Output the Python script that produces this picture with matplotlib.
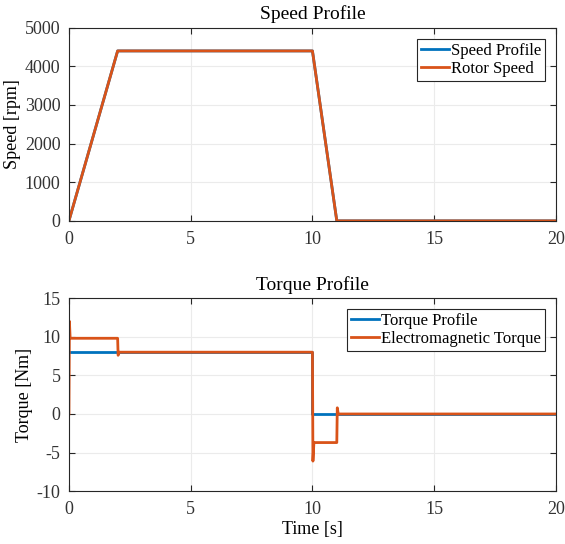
import matplotlib.pyplot as plt

plt.rcParams['font.family'] = ['Liberation Serif', 'DejaVu Serif']
plt.rcParams['font.size'] = 13
plt.rcParams['axes.unicode_minus'] = False

# speed data
t_speed = [0, 2, 10, 11, 20]
speed_ref = [0, 4400, 4400, 0, 0]
t_rotor = [0, 2, 10, 11, 20]
rotor_speed = [0, 4400, 4400, 0, 0]

# torque data
t_tref = [0, 10, 10, 20]
torque_ref = [8, 8, 0, 0]
t_te = [0, 0.02, 0.05, 2.0, 2.02, 2.06, 10.0, 10.02, 10.06, 11.0, 11.02, 11.06, 20]
torque_em = [0, 12, 9.8, 9.8, 7.6, 8, 8, -6.1, -3.7, -3.7, 0.8, 0, 0]

blue = '#0072BD'
orange = '#D95319'

fig = plt.figure(figsize=(5.65, 5.44), dpi=100)
ax1 = fig.add_axes([0.122, 0.594, 0.862, 0.355])
ax2 = fig.add_axes([0.122, 0.097, 0.862, 0.355])

ax1.plot(t_speed, speed_ref, color=blue, lw=2, label='Speed Profile')
ax1.plot(t_rotor, rotor_speed, color=orange, lw=2, label='Rotor Speed')
ax1.set_xlim(0, 20)
ax1.set_ylim(0, 5000)
ax1.set_xticks([0, 5, 10, 15, 20])
ax1.set_yticks([0, 1000, 2000, 3000, 4000, 5000])
ax1.set_ylabel('Speed [rpm]', labelpad=3)
ax1.set_title('Speed Profile', fontsize=14, pad=6)

ax2.plot(t_tref, torque_ref, color=blue, lw=2, label='Torque Profile')
ax2.plot(t_te, torque_em, color=orange, lw=2, label='Electromagnetic Torque')
ax2.set_xlim(0, 20)
ax2.set_ylim(-10, 15)
ax2.set_xticks([0, 5, 10, 15, 20])
ax2.set_yticks([-10, -5, 0, 5, 10, 15])
ax2.set_ylabel('Torque [Nm]', labelpad=3)
ax2.set_xlabel('Time [s]', labelpad=2)
ax2.set_title('Torque Profile', fontsize=14, pad=6)

for ax in (ax1, ax2):
    ax.grid(True, color='#ebebeb', lw=0.8)
    ax.tick_params(direction='in', top=True, right=True, color='#262626',
                   labelcolor='#333333', length=4)
    ax.tick_params(axis='x', pad=7)
    ax.tick_params(axis='y', pad=6)
    for s in ax.spines.values():
        s.set_color('#262626')
        s.set_linewidth(0.8)
    leg = ax.legend(loc='upper right', fancybox=False, framealpha=1,
                    edgecolor='#262626', borderpad=0.25, labelspacing=0.12,
                    handlelength=1.7, handletextpad=0.1, borderaxespad=0.65,
                    fontsize=12)
    leg.get_frame().set_linewidth(0.8)

fig.savefig('out.png', dpi=100)
